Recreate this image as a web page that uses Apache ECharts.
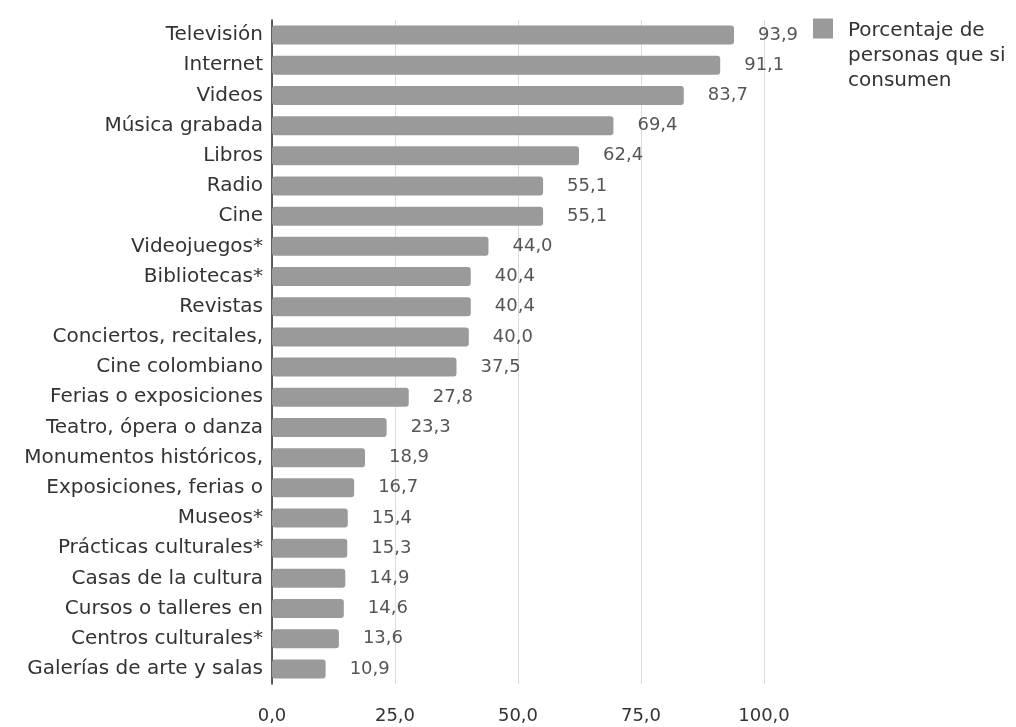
<!DOCTYPE html>
<html>
<head>
<meta charset="utf-8">
<script src="https://cdn.jsdelivr.net/npm/echarts@6/dist/echarts.min.js"></script>
<style>
  html, body { margin: 0; padding: 0; background: #fff; }
  #chart { width: 1016px; height: 727px; }
</style>
</head>
<body>
<div id="chart"></div>
<script>
// Consumo cultural: porcentaje de personas que sí consumen cada actividad
const categories = [
  'Televisión', 'Internet', 'Videos', 'Música grabada', 'Libros', 'Radio', 'Cine',
  'Videojuegos*', 'Bibliotecas*', 'Revistas', 'Conciertos, recitales,', 'Cine colombiano',
  'Ferias o exposiciones', 'Teatro, ópera o danza', 'Monumentos históricos,',
  'Exposiciones, ferias o', 'Museos*', 'Prácticas culturales*', 'Casas de la cultura',
  'Cursos o talleres en', 'Centros culturales*', 'Galerías de arte y salas'
];
const porcentajes = [
  93.9, 91.1, 83.7, 69.4, 62.4, 55.1, 55.1,
  44.0, 40.4, 40.4, 40.0, 37.5,
  27.8, 23.3, 18.9,
  16.7, 15.4, 15.3, 14.9,
  14.6, 13.6, 10.9
];
const xTicks = [0, 25, 50, 75, 100];
const seriesName = 'Porcentaje de\npersonas que si\nconsumen';

const FONT = 'DejaVu Sans';
const fmt = v => Number(v).toFixed(1).replace('.', ',');

const chart = echarts.init(document.getElementById('chart'));
chart.setOption({
  backgroundColor: '#ffffff',
  textStyle: { fontFamily: FONT },
  animation: false,
  grid: { left: 272, right: 252, top: 20, bottom: 43, containLabel: false },
  legend: {
    left: 813,
    top: 18,
    padding: 0,
    orient: 'vertical',
    itemWidth: 20,
    itemHeight: 74,
    itemGap: 0,
    // square swatch sitting at the top of a tall item box, level with the first text line
    icon: 'path://M0,0H20V20H0Z M0,74L0.01,74',
    itemStyle: { borderWidth: 0 },
    textStyle: {
      fontFamily: FONT,
      fontSize: 20,
      color: '#333',
      lineHeight: 25,
      padding: [0, 0, 0, 10]
    },
    data: [seriesName]
  },
  xAxis: {
    type: 'value',
    min: xTicks[0],
    max: xTicks[xTicks.length - 1],
    interval: 25,
    axisLine: { show: false },
    axisTick: { show: false },
    axisLabel: {
      formatter: fmt,
      fontFamily: FONT,
      fontSize: 18,
      color: '#333',
      margin: 23
    },
    splitLine: { show: true, lineStyle: { color: '#dcdcdc', width: 1 } }
  },
  yAxis: {
    type: 'category',
    inverse: true,
    data: categories,
    axisLine: { show: true, lineStyle: { color: '#2a2a2a', width: 1.5 } },
    axisTick: { show: false },
    axisLabel: {
      fontFamily: FONT,
      fontSize: 20,
      color: '#333',
      margin: 9
    }
  },
  series: [{
    name: seriesName,
    type: 'bar',
    data: porcentajes,
    barCategoryGap: '37%',
    itemStyle: { color: '#9a9a9a', borderRadius: 3 },
    label: {
      show: true,
      position: 'right',
      distance: 24,
      formatter: p => fmt(p.value),
      fontFamily: FONT,
      fontSize: 18,
      color: '#555'
    }
  }]
});
</script>
</body>
</html>
